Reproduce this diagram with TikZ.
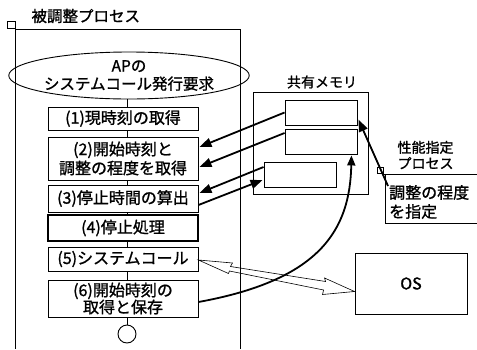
\documentclass[tikz,border=0pt]{standalone}
\usepackage{fontspec}
\newfontfamily\jp[FakeBold=1.2]{Noto Sans CJK JP}
\usetikzlibrary{arrows.meta,calc,shapes.geometric}
\begin{document}
\begin{tikzpicture}[x=1pt,y=-1pt,
  every node/.style={font=\jp\fontsize{16}{19}\selectfont},
  proc/.style={draw,line width=0.9pt,minimum width=150pt,inner sep=0pt,align=center},
  membox/.style={draw,line width=0.9pt,minimum width=72pt,minimum height=25pt,inner sep=0pt},
  lane/.style={line width=0.6pt},
  dataarrow/.style={line width=1.8pt,-{Triangle[length=12pt,width=9pt]}},
]
\useasboundingbox (0,0) rectangle (477,349);
% lane of the adjusted process
\draw[lane] (7,21) rectangle (15,28);
\draw[lane] (15,28) -- (15,349);
\draw[lane] (15,29) -- (240,29) -- (240,349);
\node[font=\jp\fontsize{15.5}{18}\selectfont, anchor=west] (l1) at (28,16) {被調整プロセス};

\node[ellipse, draw, line width=0.9pt, minimum width=216pt, minimum height=47pt, inner sep=0pt, align=center, font=\jp\fontsize{15.5}{18}\selectfont] (e) at (129,75.5) {APの\\システムコール発行要求};

\node[proc, minimum height=23pt] (b1) at (123,118.5) {(1)現時刻の取得};
\node[proc, minimum height=43pt] (b2) at (123,158.5) {(2)開始時刻と\\調整の程度を取得};
\node[proc, minimum height=27pt] (b3) at (123,198.5) {(3)停止時間の算出};
\node[proc, line width=2pt, minimum height=26pt] (b4) at (123,228) {(4)停止処理};
\node[proc, minimum height=24pt] (b5) at (123,259) {(5)システムコール};
\node[proc, minimum height=37pt, font=\jp\fontsize{16}{17}\selectfont] (b6) at (123,298.5) {(6)開始時刻の\\取得と保存};
\node[circle, draw, line width=0.9pt, minimum size=18pt, inner sep=0pt] (end) at (127,334) {};

\coordinate (sp) at (127,0);
\draw[line width=0.9pt] (sp |- e.south) -- (sp |- b1.north)
  (sp |- b1.south) -- (sp |- b2.north)
  (sp |- b2.south) -- (sp |- b3.north)
  (sp |- b3.south) -- (sp |- b4.north)
  (sp |- b4.south) -- (sp |- b5.north)
  (sp |- b5.south) -- (sp |- b6.north)
  (sp |- b6.south) -- (end.north);

% shared memory
\node[draw, line width=0.9pt, minimum width=115pt, minimum height=102pt, inner sep=0pt] (mem) at (310.5,143) {};
\node[font=\jp\fontsize{14}{16}\selectfont] (meml) at (322,82) {共有メモリ};
\node[membox] (A) at (321,112.5) {};
\node[membox] (B) at (321,141.5) {};
\node[membox] (C) at (300,174.5) {};

% performance designation process
\draw[lane] (377,167) rectangle (383,173);
\draw[lane] (383,174) -- (477,174);
\draw[lane] (385,174) -- (385,223) -- (477,223);
\node[font=\jp\fontsize{14}{16}\selectfont, align=left, anchor=west] (pl) at (394,155) {性能指定\\プロセス};
\node[align=left, anchor=west, inner sep=0pt] (pf) at (389,202) {調整の程度\\を指定};
\coordinate (pfs) at (388,186);

% OS
\node[draw, line width=0.9pt, minimum width=112pt, minimum height=61pt, inner sep=0pt] (os) at (411,283.5) {OS\hspace{14pt}};

% hollow double arrow
\coordinate (t1) at ($(b5.east)+(0,1)$);
\coordinate (t2) at ($(os.west)+(0,8)$);
\draw[line width=0.6pt] (t1) -- ($(t1)+(34,3)$) -- ($(t1)+(32,6.5)$) -- ($(t2)+(-29,-10)$) -- ($(t2)+(-30,-13.5)$) -- (t2) -- ($(t2)+(-32,3)$) -- ($(t2)+(-31,-1.5)$) -- ($(t1)+(31,11)$) -- ($(t1)+(30,13.5)$) -- cycle;

% data arrows
\draw[dataarrow] (A.west) -- ($(b2.east)+(1,-11.5)$);
\draw[dataarrow] ($(B.west)+(0,-8.5)$) -- ($(b2.east)+(1,8.5)$);
\draw[dataarrow] ($(C.west)+(0,-7.5)$) -- ($(b3.east)+(1,-5.5)$);
\draw[dataarrow] ($(b3.east)+(0,6.5)$) -- ($(C.west)+(-1,5.5)$);
\draw[line width=1.8pt,-{Triangle[length=10pt,width=8pt]}] ($(b6.east)+(0,3.5)$) .. controls (320,280) and (350,230) .. ($(B.south east)+(-6,1)$);
\draw[dataarrow] (pfs) -- ($(A.east)+(1,7)$);
\end{tikzpicture}
\end{document}
